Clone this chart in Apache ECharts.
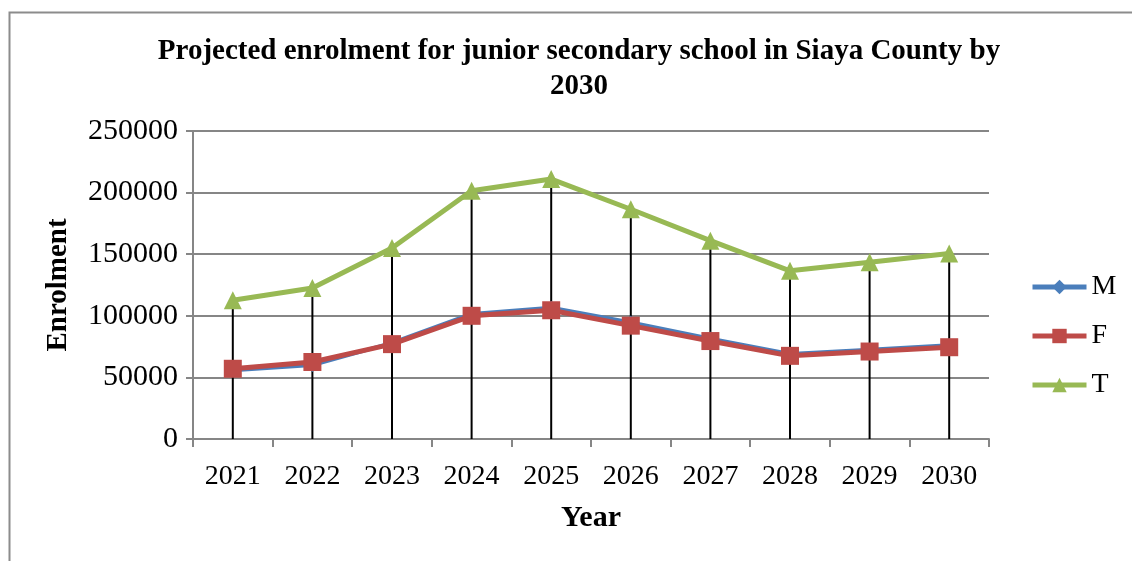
<!DOCTYPE html>
<html>
<head>
<meta charset="utf-8">
<script src="https://cdn.jsdelivr.net/npm/echarts@6/dist/echarts.min.js"></script>
<style>html,body{margin:0;padding:0;background:#fff}#c{width:1132px;height:561px}</style>
</head>
<body>
<div id="c"></div>
<script>
const years = ['2021','2022','2023','2024','2025','2026','2027','2028','2029','2030'];
const maleValues = [55700, 60000, 78000, 101500, 106500, 94500, 81500, 69000, 72500, 76000];
const femaleValues = [57000, 62500, 77000, 100000, 104500, 92000, 79500, 67500, 71000, 74500];
const totalValues = [112700, 122500, 155000, 201500, 211000, 186500, 161000, 136500, 143500, 150500];
const seriesNames = ['M', 'F', 'T'];

const FONT = '"Liberation Serif","Times New Roman",serif';
const chart = echarts.init(document.getElementById('c'), null, {renderer: 'canvas'});
chart.setOption({
  animation: false,
  backgroundColor: '#fff',
  graphic: [{
    type: 'rect', left: 7, top: 10, silent: true, z: 0,
    shape: {width: 1300, height: 700},
    style: {fill: 'none', stroke: '#8c8c8c', lineWidth: 2}
  }],
  title: {
    text: 'Projected enrolment for junior secondary school in Siaya County by\n2030',
    left: 574, top: 29, textAlign: 'center',
    textStyle: {fontFamily: FONT, fontWeight: 'bold', fontSize: 29, lineHeight: 35, color: '#000'}
  },
  legend: {
    data: seriesNames,
    orient: 'vertical', left: 1025, top: 268,
    itemWidth: 54, itemHeight: 18, itemGap: 21,
    lineStyle: {width: 5},
    textStyle: {fontFamily: FONT, fontSize: 28, color: '#000'}
  },
  grid: {left: 193, right: 143, top: 131, bottom: 122},
  xAxis: {
    type: 'category', data: years, boundaryGap: true,
    name: 'Year', nameLocation: 'middle', nameGap: 64,
    nameTextStyle: {fontFamily: FONT, fontWeight: 'bold', fontSize: 30, color: '#000'},
    axisLine: {lineStyle: {color: '#868686', width: 2}},
    axisTick: {show: true, length: 8, lineStyle: {color: '#868686', width: 2}},
    axisLabel: {fontFamily: FONT, fontSize: 28, color: '#000', margin: 24}
  },
  yAxis: {
    type: 'value', min: 0, max: 250000, interval: 50000,
    name: 'Enrolment', nameLocation: 'middle', nameGap: 120, nameRotate: 90,
    nameTextStyle: {fontFamily: FONT, fontWeight: 'bold', fontSize: 29, color: '#000'},
    axisLine: {show: true, lineStyle: {color: '#868686', width: 2}},
    axisTick: {show: true, length: 7, lineStyle: {color: '#868686', width: 2}},
    splitLine: {lineStyle: {color: '#868686', width: 2}},
    axisLabel: {fontFamily: FONT, fontSize: 30, color: '#000', margin: 15, formatter: v => String(v)}
  },
  series: [
    {
      name: 'drop', type: 'bar', data: totalValues, barWidth: 2, z: 1,
      itemStyle: {color: '#000'}, silent: true
    },
    {
      name: 'M', type: 'line', data: maleValues, z: 3,
      symbol: 'diamond', symbolSize: 14,
      lineStyle: {color: '#4A7EBB', width: 4},
      itemStyle: {color: '#4A7EBB'}
    },
    {
      name: 'F', type: 'line', data: femaleValues, z: 4,
      symbol: 'rect', symbolSize: 18,
      lineStyle: {color: '#BE4B48', width: 5},
      itemStyle: {color: '#BE4B48'}
    },
    {
      name: 'T', type: 'line', data: totalValues, z: 2,
      symbol: 'triangle', symbolSize: 18,
      lineStyle: {color: '#98B954', width: 5},
      itemStyle: {color: '#98B954'}
    }
  ]
});
</script>
</body>
</html>
